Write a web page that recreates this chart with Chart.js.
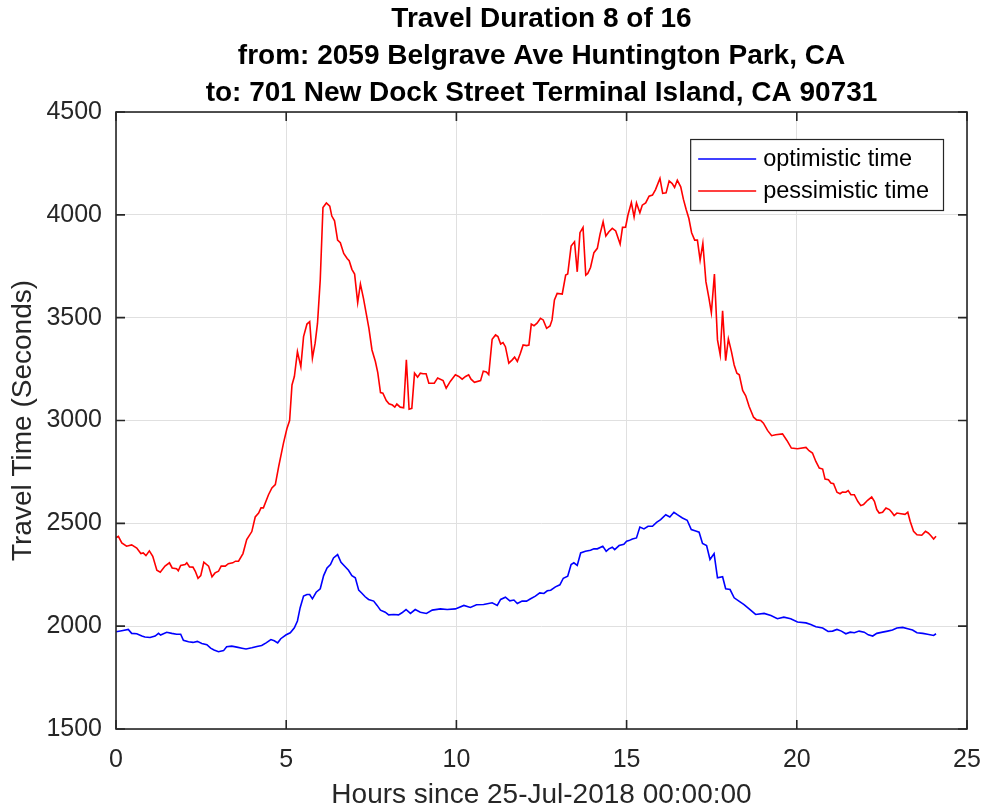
<!DOCTYPE html>
<html>
<head>
<meta charset="utf-8">
<title>Travel Duration 8 of 16</title>
<script src="https://cdn.jsdelivr.net/npm/chart.js@4.4.0/dist/chart.umd.min.js"></script>
<style>
  html, body { margin: 0; padding: 0; background: #fff; }
  canvas { display: block; }
</style>
</head>
<body>
<canvas id="chart" width="987" height="812"></canvas>
<script>
// labels
const titleLines = [
  'Travel Duration 8 of 16',
  'from: 2059 Belgrave Ave Huntington Park, CA',
  'to: 701 New Dock Street Terminal Island, CA 90731'
];
const xAxisLabel = 'Hours since 25-Jul-2018 00:00:00';
const yAxisLabel = 'Travel Time (Seconds)';
const seriesNames = ['optimistic time', 'pessimistic time'];
const xTicks = [0, 5, 10, 15, 20, 25];
const yTicks = [1500, 2000, 2500, 3000, 3500, 4000, 4500];

// optimistic time
const optHours = [
  0.00, 0.17, 0.36, 0.46, 0.61, 0.76, 0.85, 1.00, 1.15, 1.25, 1.31, 1.49, 1.64, 1.78, 1.90, 1.98,
  2.13, 2.26, 2.39, 2.52, 2.67, 2.78, 2.88, 3.01, 3.16, 3.25, 3.40, 3.55, 3.70, 3.82, 3.99, 4.14,
  4.28, 4.41, 4.55, 4.65, 4.75, 4.84, 5.00, 5.12, 5.24, 5.33, 5.41, 5.51, 5.61, 5.69, 5.77, 5.88,
  6.00, 6.10, 6.20, 6.30, 6.39, 6.51, 6.61, 6.74, 6.83, 6.93, 7.03, 7.13, 7.23, 7.32, 7.42, 7.57,
  7.67, 7.77, 7.91, 8.01, 8.16, 8.30, 8.40, 8.52, 8.65, 8.79, 8.94, 9.12, 9.29, 9.53, 9.73, 9.97,
  10.22, 10.41, 10.59, 10.80, 11.05, 11.20, 11.30, 11.44, 11.57, 11.69, 11.79, 11.93, 12.06, 12.18,
  12.32, 12.45, 12.57, 12.67, 12.77, 12.91, 13.04, 13.14, 13.27, 13.37, 13.45, 13.55, 13.65, 13.79,
  13.94, 14.04, 14.14, 14.30, 14.40, 14.48, 14.58, 14.65, 14.78, 14.92, 15.00, 15.07, 15.17, 15.29,
  15.39, 15.51, 15.63, 15.76, 15.88, 16.00, 16.15, 16.27, 16.39, 16.49, 16.64, 16.78, 16.90, 17.03,
  17.13, 17.23, 17.35, 17.45, 17.57, 17.67, 17.82, 17.91, 18.04, 18.16, 18.30, 18.45, 18.60, 18.79,
  19.04, 19.24, 19.43, 19.62, 19.82, 20.02, 20.27, 20.41, 20.56, 20.76, 20.92, 21.05, 21.18, 21.31,
  21.44, 21.57, 21.69, 21.83, 21.98, 22.10, 22.23, 22.35, 22.52, 22.67, 22.81, 22.94, 23.11, 23.26,
  23.40, 23.53, 23.70, 23.84, 24.02, 24.09
];
const optSeconds = [
  1973, 1978, 1984, 1965, 1963, 1952, 1947, 1945, 1952, 1965, 1957, 1970, 1965, 1961, 1961, 1931,
  1924, 1921, 1926, 1916, 1910, 1893, 1884, 1876, 1881, 1900, 1903, 1898, 1893, 1889, 1895, 1901,
  1906, 1919, 1935, 1929, 1919, 1939, 1958, 1968, 1992, 2025, 2090, 2146, 2154, 2154, 2133, 2165,
  2182, 2246, 2283, 2300, 2332, 2348, 2311, 2288, 2272, 2246, 2235, 2175, 2159, 2143, 2130, 2122,
  2101, 2078, 2068, 2055, 2057, 2055, 2065, 2081, 2062, 2081, 2068, 2062, 2078, 2084, 2081, 2084,
  2101, 2091, 2104, 2105, 2114, 2101, 2130, 2141, 2123, 2127, 2110, 2122, 2122, 2133,
  2146, 2162, 2159, 2172, 2175, 2191, 2201, 2233, 2243, 2300, 2308, 2295, 2356, 2364,
  2369, 2376, 2376, 2389, 2364, 2376, 2384, 2372, 2392, 2398, 2413, 2416, 2424, 2429,
  2482, 2473, 2486, 2486, 2505, 2518, 2542, 2531, 2554, 2542, 2526, 2515, 2470, 2463,
  2457, 2402, 2392, 2324, 2353, 2235, 2240, 2182, 2178, 2138, 2122, 2105, 2084, 2057,
  2062, 2052, 2036, 2044, 2036, 2020, 2016, 2008, 1997, 1991, 1974, 1976, 1984, 1976,
  1963, 1971, 1968, 1976, 1971, 1958, 1952, 1965, 1971, 1976, 1981, 1991, 1994, 1987,
  1981, 1968, 1965, 1961, 1955, 1963
];

// pessimistic time
const pesHours = [
  0.00, 0.07, 0.17, 0.31, 0.46, 0.61, 0.73, 0.80, 0.88, 0.98, 1.08, 1.20, 1.30, 1.44, 1.57, 1.65,
  1.78, 1.83, 1.90, 2.03, 2.08, 2.16, 2.26, 2.33, 2.41, 2.49, 2.58, 2.72, 2.82, 2.91, 3.01, 3.09,
  3.21, 3.30, 3.43, 3.51, 3.60, 3.73, 3.84, 3.99, 4.09, 4.19, 4.26, 4.33, 4.48, 4.58, 4.68, 4.78,
  4.92, 5.02, 5.10, 5.17, 5.24, 5.33, 5.43, 5.51, 5.61, 5.69, 5.77, 5.85, 5.92, 6.00, 6.08, 6.18,
  6.28, 6.34, 6.42, 6.51, 6.59, 6.69, 6.79, 6.85, 6.93, 7.01, 7.10, 7.18, 7.27, 7.35, 7.43, 7.52,
  7.62, 7.69, 7.77, 7.84, 7.94, 8.02, 8.12, 8.19, 8.25, 8.35, 8.45, 8.53, 8.61, 8.69, 8.77, 8.86,
  8.94, 9.02, 9.11, 9.19, 9.35, 9.45, 9.61, 9.70, 9.82, 9.97, 10.07, 10.17, 10.27, 10.36, 10.43,
  10.53, 10.71, 10.79, 10.88, 10.95, 11.05, 11.15, 11.22, 11.30, 11.37, 11.44, 11.54, 11.64, 11.71,
  11.79, 11.88, 11.96, 12.06, 12.13, 12.20, 12.28, 12.37, 12.47, 12.55, 12.65, 12.75, 12.81, 12.88,
  12.96, 13.11, 13.21, 13.27, 13.37, 13.47, 13.55, 13.63, 13.72, 13.80, 13.86, 13.94, 14.04, 14.14,
  14.22, 14.31, 14.39, 14.48, 14.58, 14.68, 14.81, 14.88, 14.97, 15.04, 15.14, 15.22, 15.29, 15.39,
  15.46, 15.56, 15.66, 15.76, 15.85, 15.98, 16.06, 16.16, 16.25, 16.34, 16.41, 16.49, 16.59, 16.67,
  16.75, 16.83, 16.91, 17.00, 17.08, 17.16, 17.24, 17.33, 17.42, 17.49, 17.58, 17.67, 17.75, 17.82,
  17.91, 17.99, 18.08, 18.16, 18.24, 18.31, 18.41, 18.50, 18.60, 18.73, 18.82, 18.94, 19.02, 19.14,
  19.26, 19.38, 19.58, 19.71, 19.84, 20.02, 20.27, 20.36, 20.46, 20.56, 20.66, 20.76, 20.83, 20.93,
  21.00, 21.08, 21.18, 21.27, 21.34, 21.44, 21.51, 21.59, 21.69, 21.79, 21.88, 21.96, 22.08, 22.20,
  22.28, 22.35, 22.42, 22.52, 22.62, 22.72, 22.79, 22.86, 22.94, 23.06, 23.18, 23.26, 23.33, 23.43,
  23.53, 23.67, 23.78, 23.86, 23.94, 24.02, 24.09
];
const pesSeconds = [
  2430, 2437, 2405, 2389, 2395, 2380, 2353, 2356, 2343, 2366, 2340, 2272, 2262, 2292, 2308, 2283,
  2279, 2269, 2295, 2300, 2308, 2288, 2287, 2267, 2233, 2246, 2311, 2292, 2240, 2259, 2267, 2292,
  2292, 2304, 2308, 2316, 2316, 2353, 2421, 2460, 2531, 2550, 2575, 2575, 2639, 2672, 2688, 2777,
  2890, 2960, 3000, 3173, 3214, 3335, 3262, 3408, 3469, 3481, 3303, 3376, 3473, 3683, 4036, 4058,
  4042, 3994, 3971, 3877, 3864, 3812, 3788, 3777, 3735, 3712, 3573, 3664, 3594, 3521, 3448, 3343,
  3287, 3233, 3136, 3133, 3097, 3081, 3075, 3065, 3080, 3065, 3062, 3295, 3055, 3059, 3230, 3211,
  3230, 3227, 3227, 3181, 3181, 3207, 3194, 3157, 3190, 3222, 3214, 3201, 3214, 3222, 3201,
  3186, 3194, 3240, 3236, 3223, 3395, 3416, 3408, 3372, 3379, 3359, 3279, 3295, 3308,
  3287, 3327, 3367, 3364, 3367, 3469, 3461, 3473, 3497, 3489, 3448, 3460, 3489, 3586,
  3618, 3615, 3707, 3712, 3848, 3869, 3723, 3913, 3939, 3707, 3715, 3744, 3816, 3837,
  3906, 3966, 3897, 3918, 3934, 3922, 3858, 3939, 3940, 3999, 4060, 3990, 4058, 4010,
  4047, 4058, 4091, 4096, 4123, 4177, 4104, 4107, 4165, 4152, 4133, 4168, 4136, 4075,
  4026, 3982, 3913, 3877, 3877, 3780, 3861, 3675, 3594, 3524, 3712, 3392, 3319, 3534,
  3291, 3397, 3335, 3270, 3230, 3222, 3146, 3120, 3068, 3016, 3003, 3000, 2987, 2952,
  2926, 2931, 2935, 2903, 2866, 2863, 2869, 2853, 2842, 2801, 2769, 2764, 2715, 2712,
  2696, 2693, 2651, 2644, 2652, 2651, 2659, 2639, 2639, 2607, 2586, 2591, 2612, 2628,
  2607, 2567, 2550, 2554, 2575, 2567, 2554, 2538, 2550, 2547, 2544, 2554, 2510, 2461,
  2444, 2442, 2461, 2453, 2440, 2424, 2437
];

const fontFamily = '"Liberation Sans", Arial, Helvetica, sans-serif';
const axisColor = '#262626';

function toPoints(hours, secs) {
  return hours.map((h, i) => ({ x: h, y: secs[i] }));
}

// MATLAB style box with ticks pointing inward
const axesBox = {
  id: 'axesBox',
  afterDatasetsDraw(chart) {
    const { ctx, chartArea: a, scales: { x, y } } = chart;
    ctx.save();
    ctx.strokeStyle = axisColor;
    ctx.lineWidth = 1.6;
    ctx.strokeRect(a.left, a.top, a.right - a.left, a.bottom - a.top);
    ctx.beginPath();
    x.ticks.forEach(t => {
      const px = x.getPixelForValue(t.value);
      ctx.moveTo(px, a.bottom); ctx.lineTo(px, a.bottom - 9);
      ctx.moveTo(px, a.top); ctx.lineTo(px, a.top + 9);
    });
    y.ticks.forEach(t => {
      const py = y.getPixelForValue(t.value);
      ctx.moveTo(a.left, py); ctx.lineTo(a.left + 9, py);
      ctx.moveTo(a.right, py); ctx.lineTo(a.right - 9, py);
    });
    ctx.stroke();
    ctx.restore();
  }
};

// legend drawn inside the plot, top right
const insideLegend = {
  id: 'insideLegend',
  afterDraw(chart) {
    const { ctx, chartArea: a } = chart;
    const sets = chart.data.datasets;
    ctx.save();
    ctx.font = '23.5px ' + fontFamily;
    const textW = Math.max(...sets.map(d => ctx.measureText(d.label).width));
    const w = 8 + 58 + 7 + textW + 14;
    const h = 71;
    const left = a.right - 24 - w;
    const top = a.top + 27;
    ctx.fillStyle = '#fff';
    ctx.fillRect(left, top, w, h);
    ctx.strokeStyle = axisColor;
    ctx.lineWidth = 1.2;
    ctx.strokeRect(left + 0.5, top + 0.5, w, h);
    sets.forEach((d, i) => {
      const yy = top + 20 + i * 32;
      ctx.strokeStyle = d.borderColor;
      ctx.lineWidth = 1.5;
      ctx.beginPath();
      ctx.moveTo(left + 8, yy);
      ctx.lineTo(left + 66, yy);
      ctx.stroke();
      ctx.fillStyle = '#000';
      ctx.textAlign = 'left';
      ctx.textBaseline = 'middle';
      ctx.fillText(d.label, left + 73, yy + 1);
    });
    ctx.restore();
  }
};

new Chart(document.getElementById('chart'), {
  type: 'line',
  data: {
    datasets: [
      {
        label: seriesNames[0],
        data: toPoints(optHours, optSeconds),
        borderColor: '#0000ff',
        borderWidth: 1.6,
        pointRadius: 0,
        tension: 0
      },
      {
        label: seriesNames[1],
        data: toPoints(pesHours, pesSeconds),
        borderColor: '#ff0000',
        borderWidth: 1.6,
        pointRadius: 0,
        tension: 0
      }
    ]
  },
  options: {
    responsive: false,
    animation: false,
    devicePixelRatio: 1,
    layout: { padding: { top: 0, right: 20, bottom: 0, left: 0 } },
    plugins: {
      legend: { display: false },
      tooltip: { enabled: false },
      title: {
        display: true,
        fullSize: false,
        text: titleLines,
        color: '#000',
        font: { family: fontFamily, size: 28, weight: 'bold', lineHeight: 37 / 28 },
        padding: { top: 1, bottom: 0 }
      }
    },
    scales: {
      x: {
        type: 'linear',
        min: 0,
        max: 25,
        afterBuildTicks: s => { s.ticks = xTicks.map(v => ({ value: v })); },
        afterFit: s => { s.height = 83; s.paddingLeft = 0; s.paddingRight = 0; },
        grid: { color: '#e0e0e0', drawTicks: false },
        border: { display: false },
        ticks: { color: axisColor, padding: 16, font: { family: fontFamily, size: 25 } },
        title: {
          display: true,
          text: xAxisLabel,
          color: axisColor,
          font: { family: fontFamily, size: 28 },
          padding: { top: 0, bottom: 0 }
        }
      },
      y: {
        min: 1500,
        max: 4500,
        afterBuildTicks: s => { s.ticks = yTicks.map(v => ({ value: v })); },
        afterFit: s => { s.width = 116; },
        grid: { color: '#e0e0e0', drawTicks: false },
        border: { display: false },
        ticks: {
          color: axisColor,
          padding: 14,
          font: { family: fontFamily, size: 25 },
          callback: v => String(v)
        },
        title: {
          display: true,
          text: yAxisLabel,
          color: axisColor,
          font: { family: fontFamily, size: 28 },
          padding: { top: 6, bottom: 0 }
        }
      }
    }
  },
  plugins: [axesBox, insideLegend]
});
</script>
</body>
</html>
